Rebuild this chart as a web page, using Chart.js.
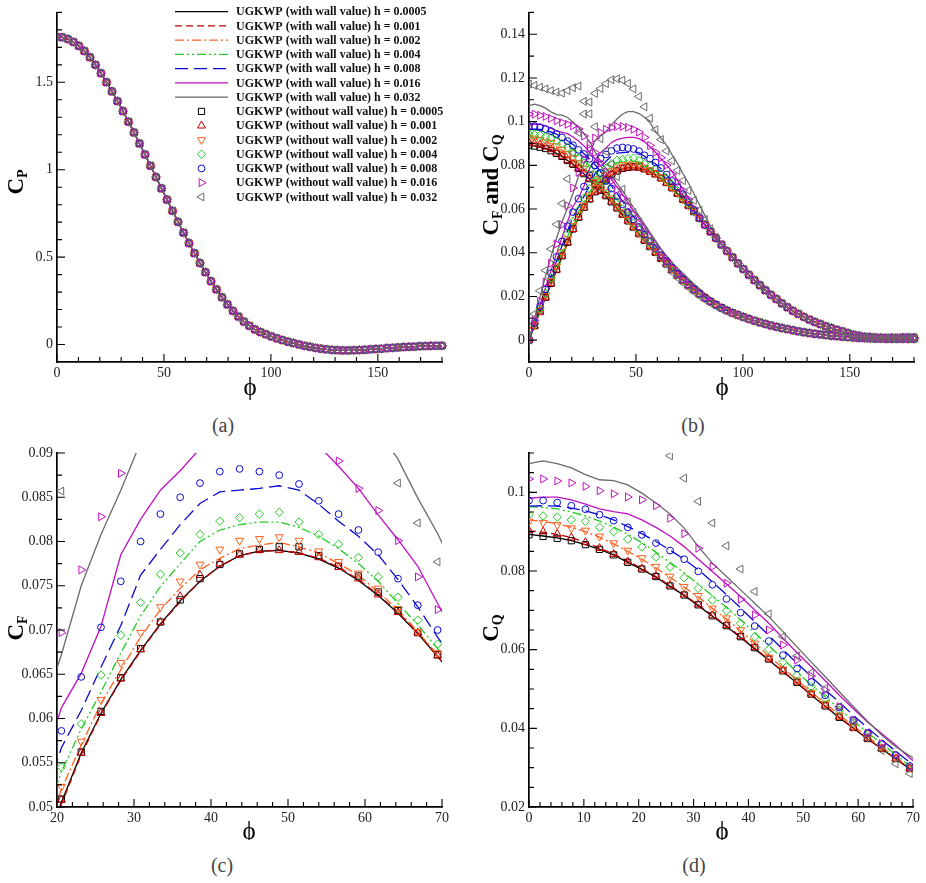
<!DOCTYPE html>
<html><head><meta charset="utf-8">
<script src="https://cdn.jsdelivr.net/npm/chart.js@4.4.1/dist/chart.umd.min.js"></script>
<style>
html,body{margin:0;padding:0;background:#fff;}
#wrap{position:relative;width:926px;height:883px;overflow:hidden;background:#fff;}
canvas{position:absolute;}
.cap{position:absolute;font-family:'Liberation Serif',serif;font-size:20px;color:#444;transform:translate(-50%,-50%);white-space:nowrap;}
</style></head><body>
<div id="wrap">
<canvas id="ca" width="463" height="400" style="left:0;top:0"></canvas>
<canvas id="cb" width="463" height="400" style="left:463px;top:0"></canvas>
<canvas id="cc" width="463" height="400" style="left:0;top:440px"></canvas>
<canvas id="cd" width="463" height="400" style="left:463px;top:440px"></canvas>
<div class="cap" style="left:223px;top:425px">(a)</div>
<div class="cap" style="left:693px;top:425px">(b)</div>
<div class="cap" style="left:222px;top:865px">(c)</div>
<div class="cap" style="left:694px;top:865px">(d)</div>
</div>
<script>
// ---------------- data ----------------
const phi = [0, 2.571, 5.143, 7.714, 10.286, 12.857, 15.429, 18, 20.571, 23.143, 25.714, 28.286, 30.857, 33.429, 36, 38.571, 41.143, 43.714, 46.286, 48.857, 51.429, 54, 56.571, 59.143, 61.714, 64.286, 66.857, 69.429, 72, 74.571, 77.143, 79.714, 82.286, 84.857, 87.429, 90, 92.571, 95.143, 97.714, 100.286, 102.857, 105.429, 108, 110.571, 113.143, 115.714, 118.286, 120.857, 123.429, 126, 128.571, 131.143, 133.714, 136.286, 138.857, 141.429, 144, 146.571, 149.143, 151.714, 154.286, 156.857, 159.429, 162, 164.571, 167.143, 169.714, 172.286, 174.857, 177.429, 180];

const cp = [1.760, 1.757, 1.747, 1.731, 1.708, 1.679, 1.643, 1.600, 1.552, 1.500, 1.448, 1.392, 1.335, 1.275, 1.213, 1.150, 1.087, 1.023, 0.958, 0.893, 0.829, 0.765, 0.702, 0.640, 0.580, 0.522, 0.466, 0.413, 0.362, 0.315, 0.270, 0.229, 0.192, 0.160, 0.131, 0.107, 0.086, 0.071, 0.058, 0.046, 0.035, 0.025, 0.016, 0.008, 0.000, -0.007, -0.013, -0.019, -0.024, -0.028, -0.031, -0.033, -0.034, -0.034, -0.033, -0.032, -0.030, -0.028, -0.026, -0.024, -0.021, -0.019, -0.017, -0.015, -0.013, -0.012, -0.010, -0.009, -0.008, -0.007, -0.007];

// C_F, with wall value (lines)
const cfW0005 = [0, 0.0065, 0.0130, 0.0195, 0.0258, 0.0320, 0.0382, 0.0444, 0.0505, 0.0561, 0.0606, 0.0644, 0.0677, 0.0707, 0.0733, 0.0755, 0.0772, 0.0784, 0.0789, 0.0790, 0.0787, 0.0780, 0.0770, 0.0756, 0.0739, 0.0719, 0.0696, 0.0670];
const cfW001 = [0, 0.0065, 0.0130, 0.0194, 0.0257, 0.0319, 0.0381, 0.0443, 0.0503, 0.0559, 0.0605, 0.0643, 0.0676, 0.0706, 0.0732, 0.0755, 0.0772, 0.0784, 0.0789, 0.0790, 0.0787, 0.0781, 0.0771, 0.0757, 0.0740, 0.0720, 0.0697, 0.0670];
const cfW002 = [0, 0.0067, 0.0134, 0.0200, 0.0265, 0.0329, 0.0393, 0.0457, 0.0520, 0.0570, 0.0617, 0.0655, 0.0692, 0.0723, 0.0747, 0.0768, 0.0781, 0.0792, 0.0796, 0.0799, 0.0794, 0.0787, 0.0775, 0.0762, 0.0743, 0.0723, 0.0698, 0.0672];
const cfW004 = [0, 0.0068, 0.0136, 0.0204, 0.0272, 0.0339, 0.0406, 0.0473, 0.0540, 0.0588, 0.0630, 0.0674, 0.0716, 0.0749, 0.0775, 0.0800, 0.0813, 0.0819, 0.0822, 0.0822, 0.0816, 0.0806, 0.0792, 0.0775, 0.0755, 0.0730, 0.0706, 0.0679, 0.0652, 0.0621, 0.0589];
const cfW008 = [0, 0.0073, 0.0146, 0.0219, 0.0290, 0.0361, 0.0432, 0.0500, 0.0567, 0.0609, 0.0658, 0.0705, 0.0762, 0.0791, 0.0819, 0.0843, 0.0856, 0.0858, 0.0860, 0.0863, 0.0858, 0.0842, 0.0823, 0.0806, 0.0785, 0.0757, 0.0726, 0.0692, 0.0660, 0.0626, 0.0592, 0.0558];
const cfW016 = [0, 0.0080, 0.0160, 0.0240, 0.0318, 0.0395, 0.0470, 0.0542, 0.0612, 0.0651, 0.0704, 0.0785, 0.0825, 0.0858, 0.0880, 0.0905, 0.0918, 0.0925, 0.0928, 0.0928, 0.0922, 0.0908, 0.0885, 0.0860, 0.0830, 0.0802, 0.0772, 0.0730, 0.0690, 0.0650, 0.0605, 0.0565, 0.0530, 0.0498];
const cfW032 = [0, 0.0100, 0.0198, 0.0292, 0.0382, 0.0465, 0.0542, 0.0605, 0.0672, 0.0750, 0.0808, 0.0858, 0.0912, 0.0935, 0.0955, 0.0985, 0.1012, 0.1035, 0.1046, 0.1046, 0.1037, 0.1020, 0.0995, 0.0955, 0.0925, 0.0893, 0.0849, 0.0809, 0.0762, 0.0718, 0.0670, 0.0620, 0.0570, 0.0520, 0.0478, 0.0440];
// C_F, without wall value (symbols)
const cfO0005 = [0, 0.0066, 0.0131, 0.0196, 0.0260, 0.0323, 0.0386, 0.0448, 0.0509, 0.0562, 0.0608, 0.0646, 0.0679, 0.0709, 0.0734, 0.0758, 0.0774, 0.0786, 0.0791, 0.0794, 0.0794, 0.0784, 0.0772, 0.0761, 0.0743, 0.0722, 0.0697, 0.0672];
const cfO001 = [0, 0.0065, 0.0130, 0.0195, 0.0259, 0.0322, 0.0385, 0.0447, 0.0508, 0.0561, 0.0606, 0.0645, 0.0678, 0.0709, 0.0738, 0.0762, 0.0775, 0.0785, 0.0790, 0.0790, 0.0788, 0.0782, 0.0771, 0.0758, 0.0740, 0.0720, 0.0697, 0.0671];
const cfO002 = [0, 0.0068, 0.0136, 0.0204, 0.0271, 0.0337, 0.0402, 0.0463, 0.0523, 0.0574, 0.0621, 0.0663, 0.0697, 0.0726, 0.0755, 0.0774, 0.0791, 0.0801, 0.0803, 0.0805, 0.0801, 0.0789, 0.0777, 0.0764, 0.0747, 0.0724, 0.0698, 0.0674];
const cfO004 = [0, 0.0072, 0.0144, 0.0215, 0.0285, 0.0354, 0.0422, 0.0486, 0.0545, 0.0594, 0.0649, 0.0694, 0.0731, 0.0763, 0.0787, 0.0808, 0.0823, 0.0827, 0.0831, 0.0833, 0.0822, 0.0808, 0.0797, 0.0782, 0.0760, 0.0737, 0.0711, 0.0684, 0.0656, 0.0624, 0.0590];
const cfO008 = [0, 0.0078, 0.0155, 0.0232, 0.0307, 0.0381, 0.0452, 0.0522, 0.0586, 0.0647, 0.0703, 0.0755, 0.0800, 0.0831, 0.0850, 0.0866, 0.0879, 0.0882, 0.0879, 0.0875, 0.0865, 0.0846, 0.0831, 0.0813, 0.0788, 0.0758, 0.0728, 0.0700, 0.0668, 0.0632, 0.0595, 0.0559];
const cfO016 = [0, 0.0090, 0.0178, 0.0265, 0.0352, 0.0440, 0.0528, 0.0615, 0.0697, 0.0768, 0.0828, 0.0877, 0.0925, 0.0950, 0.0965, 0.0973, 0.0978, 0.0978, 0.0974, 0.0965, 0.0952, 0.0928, 0.0891, 0.0860, 0.0835, 0.0801, 0.0760, 0.0723, 0.0685, 0.0645, 0.0603, 0.0562, 0.0529];
const cfO032 = [0, 0.0120, 0.0226, 0.0319, 0.0417, 0.0530, 0.0625, 0.0738, 0.0857, 0.0950, 0.1035, 0.1090, 0.1129, 0.1151, 0.1174, 0.1192, 0.1196, 0.1190, 0.1175, 0.1150, 0.1115, 0.1068, 0.1016, 0.0963, 0.0918, 0.0866, 0.0821, 0.0777, 0.0730, 0.0685, 0.0640, 0.0595, 0.0552, 0.0510, 0.0470, 0.0438];
// common C_F values from phi = 72 deg onwards (all series coincide)
const cfTail = [0.0644, 0.0616, 0.0588, 0.0558, 0.0528, 0.0497, 0.0467, 0.0437, 0.0408, 0.0379, 0.0351, 0.0325, 0.0299, 0.0274, 0.0251, 0.0228, 0.0207, 0.0188, 0.0168, 0.0150, 0.0134, 0.0120, 0.0106, 0.0094, 0.0083, 0.0073, 0.0063, 0.0055, 0.0047, 0.0040, 0.0032, 0.0025, 0.0020, 0.0016, 0.0014, 0.0012, 0.0011, 0.0011, 0.0011, 0.0011, 0.0012, 0.0012, 0.0012];

// C_Q, with wall value (lines)
const cqW0005 = [0.0893, 0.0889, 0.0884, 0.0877, 0.0867, 0.0855, 0.0841, 0.0822, 0.0804, 0.0784, 0.0761, 0.0738, 0.0712, 0.0685, 0.0659, 0.0631, 0.0602, 0.0574, 0.0544, 0.0515, 0.0485, 0.0456, 0.0427, 0.0400, 0.0373, 0.0348, 0.0322, 0.0297];
const cqW001 = [0.0902, 0.0899, 0.0893, 0.0885, 0.0873, 0.0858, 0.0843, 0.0825, 0.0806, 0.0786, 0.0763, 0.0739, 0.0714, 0.0687, 0.0661, 0.0633, 0.0604, 0.0575, 0.0545, 0.0516, 0.0486, 0.0457, 0.0428, 0.0401, 0.0374, 0.0348, 0.0323, 0.0298];
const cqW002 = [0.0930, 0.0926, 0.0920, 0.0911, 0.0900, 0.0886, 0.0869, 0.0850, 0.0830, 0.0808, 0.0784, 0.0759, 0.0734, 0.0705, 0.0678, 0.0648, 0.0617, 0.0584, 0.0553, 0.0523, 0.0492, 0.0464, 0.0434, 0.0406, 0.0379, 0.0352, 0.0326, 0.0300];
const cqW004 = [0.0963, 0.0962, 0.0958, 0.0950, 0.0940, 0.0927, 0.0912, 0.0893, 0.0872, 0.0848, 0.0822, 0.0795, 0.0767, 0.0737, 0.0707, 0.0676, 0.0643, 0.0610, 0.0577, 0.0543, 0.0511, 0.0480, 0.0449, 0.0419, 0.0389, 0.0361, 0.0333, 0.0305, 0.0280, 0.0256, 0.0234];
const cqW008 = [0.0965, 0.0966, 0.0965, 0.0960, 0.0953, 0.0943, 0.0930, 0.0913, 0.0895, 0.0875, 0.0853, 0.0830, 0.0803, 0.0772, 0.0740, 0.0706, 0.0671, 0.0636, 0.0600, 0.0566, 0.0532, 0.0498, 0.0466, 0.0433, 0.0401, 0.0371, 0.0342, 0.0313, 0.0287, 0.0262, 0.0240, 0.0219, 0.0199, 0.0181, 0.0165];
const cqW016 = [0.0985, 0.0988, 0.0988, 0.0981, 0.0970, 0.0958, 0.0951, 0.0945, 0.0930, 0.0911, 0.0889, 0.0862, 0.0830, 0.0799, 0.0767, 0.0735, 0.0701, 0.0667, 0.0629, 0.0592, 0.0557, 0.0521, 0.0484, 0.0450, 0.0416, 0.0387, 0.0357, 0.0324, 0.0299, 0.0274, 0.0251, 0.0230, 0.0210, 0.0192, 0.0175, 0.0159, 0.0145];
const cqW032 = [0.1073, 0.1080, 0.1073, 0.1062, 0.1045, 0.1032, 0.1030, 0.1019, 0.0998, 0.0973, 0.0945, 0.0909, 0.0862, 0.0820, 0.0786, 0.0752, 0.0718, 0.0684, 0.0646, 0.0607, 0.0569, 0.0531, 0.0493, 0.0455, 0.0418, 0.0383, 0.0353, 0.0330, 0.0306, 0.0281, 0.0257, 0.0235, 0.0214, 0.0195, 0.0177, 0.0160, 0.0146, 0.0134];
// C_Q, without wall value (symbols)
const cqO0005 = [0.0892, 0.0888, 0.0883, 0.0877, 0.0867, 0.0855, 0.0841, 0.0822, 0.0805, 0.0786, 0.0762, 0.0739, 0.0714, 0.0686, 0.0661, 0.0633, 0.0605, 0.0576, 0.0546, 0.0517, 0.0487, 0.0457, 0.0428, 0.0402, 0.0374, 0.0349, 0.0323, 0.0298];
const cqO001 = [0.0903, 0.0900, 0.0894, 0.0885, 0.0873, 0.0858, 0.0843, 0.0824, 0.0806, 0.0787, 0.0763, 0.0740, 0.0715, 0.0687, 0.0662, 0.0634, 0.0606, 0.0577, 0.0547, 0.0518, 0.0488, 0.0458, 0.0429, 0.0402, 0.0375, 0.0349, 0.0323, 0.0298];
const cqO002 = [0.0926, 0.0923, 0.0917, 0.0909, 0.0903, 0.0888, 0.0871, 0.0852, 0.0833, 0.0811, 0.0786, 0.0760, 0.0737, 0.0705, 0.0680, 0.0650, 0.0616, 0.0580, 0.0550, 0.0521, 0.0490, 0.0463, 0.0433, 0.0405, 0.0378, 0.0351, 0.0326, 0.0300];
const cqO004 = [0.0943, 0.0940, 0.0937, 0.0930, 0.0926, 0.0911, 0.0900, 0.0881, 0.0861, 0.0835, 0.0810, 0.0783, 0.0756, 0.0726, 0.0699, 0.0667, 0.0633, 0.0601, 0.0569, 0.0535, 0.0506, 0.0476, 0.0446, 0.0416, 0.0387, 0.0360, 0.0332, 0.0304, 0.0279, 0.0255, 0.0233];
const cqO008 = [0.0979, 0.0979, 0.0974, 0.0966, 0.0957, 0.0943, 0.0928, 0.0911, 0.0892, 0.0871, 0.0852, 0.0830, 0.0799, 0.0765, 0.0729, 0.0694, 0.0660, 0.0622, 0.0586, 0.0552, 0.0518, 0.0484, 0.0453, 0.0421, 0.0388, 0.0361, 0.0332, 0.0304, 0.0279, 0.0255, 0.0233, 0.0213];
const cqO016 = [0.1034, 0.1034, 0.1029, 0.1024, 0.1015, 0.1004, 0.0996, 0.0988, 0.0981, 0.0966, 0.0934, 0.0895, 0.0858, 0.0811, 0.0769, 0.0728, 0.0688, 0.0650, 0.0612, 0.0574, 0.0533, 0.0497, 0.0455, 0.0421, 0.0388, 0.0361, 0.0332, 0.0302, 0.0277, 0.0254, 0.0232, 0.0212, 0.0194];
const cqO032 = [0.1172, 0.1166, 0.1158, 0.1150, 0.1142, 0.1135, 0.1131, 0.1142, 0.1155, 0.1163, 0.1093, 0.1036, 0.0977, 0.0922, 0.0864, 0.0805, 0.0748, 0.0691, 0.0633, 0.0584, 0.0541, 0.0501, 0.0455, 0.0416, 0.0378, 0.0344, 0.0310, 0.0285, 0.0262, 0.0240, 0.0220, 0.0201, 0.0184, 0.0168, 0.0154, 0.0141, 0.0130, 0.0120, 0.0111, 0.0102, 0.0094];
const cqTail = [0.0274, 0.0251, 0.0230, 0.0211, 0.0193, 0.0177, 0.0162, 0.0148, 0.0136, 0.0125, 0.0115, 0.0106, 0.0097, 0.0089, 0.0081, 0.0074, 0.0067, 0.0061, 0.0055, 0.0050, 0.0045, 0.0040, 0.0036, 0.0032, 0.0029, 0.0026, 0.0023, 0.0020, 0.0018, 0.0016, 0.0014, 0.0012, 0.0010, 0.0009, 0.0008, 0.0007, 0.0007, 0.0006, 0.0006, 0.0006, 0.0006, 0.0006, 0.0006];

const hValues = ['0.0005', '0.001', '0.002', '0.004', '0.008', '0.016', '0.032'];

// ticks
const xMajorA = [0, 50, 100, 150];
const xMinorA = [10, 20, 30, 40, 60, 70, 80, 90, 110, 120, 130, 140, 160, 170, 180];
const yMajorA = [0, 0.5, 1, 1.5];
const yMinorA = [0.1, 0.2, 0.3, 0.4, 0.6, 0.7, 0.8, 0.9, 1.1, 1.2, 1.3, 1.4, 1.6, 1.7, 1.8, 1.9];
const yMajorB = [0, 0.02, 0.04, 0.06, 0.08, 0.1, 0.12, 0.14];
const yMinorB = [0.01, 0.03, 0.05, 0.07, 0.09, 0.11, 0.13, 0.15];
const xMajorC = [20, 30, 40, 50, 60, 70];
const xMinorC = [22, 24, 26, 28, 32, 34, 36, 38, 42, 44, 46, 48, 52, 54, 56, 58, 62, 64, 66, 68];
const yMajorC = [0.05, 0.055, 0.06, 0.065, 0.07, 0.075, 0.08, 0.085, 0.09];
const yMinorC = [0.0525, 0.0575, 0.0625, 0.0675, 0.0725, 0.0775, 0.0825, 0.0875];
const xMajorD = [0, 10, 20, 30, 40, 50, 60, 70];
const xMinorD = [2, 4, 6, 8, 12, 14, 16, 18, 22, 24, 26, 28, 32, 34, 36, 38, 42, 44, 46, 48, 52, 54, 56, 58, 62, 64, 66, 68];
const yMajorD = [0.02, 0.04, 0.06, 0.08, 0.1];
const yMinorD = [0.025, 0.03, 0.035, 0.045, 0.05, 0.055, 0.065, 0.07, 0.075, 0.085, 0.09, 0.095, 0.105, 0.11];

// ---------------- build ----------------
const full = (head, tail) => head.concat(tail.slice(head.length - 28));
const cfLines = [cfW0005, cfW001, cfW002, cfW004, cfW008, cfW016, cfW032].map(a => full(a, cfTail));
const cfMarks = [cfO0005, cfO001, cfO002, cfO004, cfO008, cfO016, cfO032].map(a => full(a, cfTail));
const cqLines = [cqW0005, cqW001, cqW002, cqW004, cqW008, cqW016, cqW032].map(a => full(a, cqTail));
const cqMarks = [cqO0005, cqO001, cqO002, cqO004, cqO008, cqO016, cqO032].map(a => full(a, cqTail));
const cpSet = [cp, cp, cp, cp, cp, cp, cp];

const colors = ['#000000', '#c00000', '#ff6020', '#22cc22', '#0a0ad2', '#c010c0', '#6a6a6a'];
const dashes = [[], [7, 4], [9, 3, 2, 3], [9, 3, 2, 3, 2, 3], [13, 6], [], []];
const mStyle = ['rect', 'triangle', 'triangle', 'rectRot', 'circle', 'triangle', 'triangle'];
const mRot = [0, 0, 180, 0, 0, 90, -90];
const mRad = [4.4, 4.6, 4.6, 4.2, 3.4, 4.6, 4.6];
const SERIF = "'Liberation Serif', 'DejaVu Serif', serif";
Chart.defaults.font.family = SERIF;
const tickFont = {family: SERIF, size: 14};

const xy = ys => ys.map((y, i) => ({x: phi[i], y: y}));

function drawMarker(ctx, k, x, y) {
  const r = mRad[k], st = mStyle[k];
  ctx.beginPath();
  if (st === 'circle') ctx.arc(x, y, r, 0, Math.PI * 2);
  else if (st === 'rect') { const s = Math.SQRT1_2 * r; ctx.rect(x - s, y - s, 2 * s, 2 * s); }
  else if (st === 'rectRot') { ctx.moveTo(x, y - r); ctx.lineTo(x + r, y); ctx.lineTo(x, y + r); ctx.lineTo(x - r, y); ctx.closePath(); }
  else {
    let rad = mRot[k] * Math.PI / 180;
    for (let j = 0; j < 3; j++) {
      const px = x + Math.sin(rad) * r, py = y - Math.cos(rad) * r;
      if (j) ctx.lineTo(px, py); else ctx.moveTo(px, py);
      rad += 2 * Math.PI / 3;
    }
    ctx.closePath();
  }
  ctx.stroke();
}

function drawRich(ctx, parts, cx, cy, rotate) {
  ctx.save();
  ctx.translate(cx, cy);
  if (rotate) ctx.rotate(-Math.PI / 2);
  let total = 0;
  parts.forEach(p => { ctx.font = p.f; p.w = ctx.measureText(p.t).width; total += p.w; });
  let x = -total / 2;
  ctx.fillStyle = '#000';
  ctx.textBaseline = 'alphabetic';
  ctx.textAlign = 'left';
  parts.forEach(p => { ctx.font = p.f; ctx.fillText(p.t, x, p.dy); x += p.w; });
  ctx.restore();
}

const BIG = "bold 23px " + SERIF, SUB = "bold 14px " + SERIF;

function decor(o) {
  return {
    id: 'decor',
    afterDraw(chart) {
      const ctx = chart.ctx, xs = chart.scales.x, ys = chart.scales.y, a = chart.chartArea;
      ctx.save();
      ctx.strokeStyle = '#000';
      ctx.lineWidth = 1.1;
      ctx.setLineDash([]);
      ctx.beginPath();
      const tx = (list, len) => list.forEach(v => { const p = xs.getPixelForValue(v); ctx.moveTo(p, a.bottom); ctx.lineTo(p, a.bottom - len); });
      const ty = (list, len) => list.forEach(v => { const p = ys.getPixelForValue(v); ctx.moveTo(a.left, p); ctx.lineTo(a.left + len, p); });
      tx(o.xMajor, 8); tx(o.xMinor, 5); ty(o.yMajor, 8); ty(o.yMinor, 5);
      ctx.stroke();
      // axis titles
      drawRich(ctx, o.yTitle, o.yTitlePos[0], o.yTitlePos[1], true);
      ctx.font = "25px " + SERIF;
      ctx.fillStyle = '#000';
      ctx.textAlign = 'center';
      ctx.textBaseline = 'middle';
      ctx.fillText('\u03D5', o.xTitlePos[0], o.xTitlePos[1]);
      if (o.legend) {
        ctx.font = "bold 12px " + SERIF;
        ctx.textBaseline = 'middle';
        ctx.textAlign = 'left';
        for (let k = 0; k < 14; k++) {
          const y = 11.7 + 14.25 * k;
          const s = k % 7;
          ctx.strokeStyle = colors[s];
          if (k < 7) {
            ctx.lineWidth = 1.3;
            ctx.setLineDash(dashes[s]);
            ctx.beginPath(); ctx.moveTo(175, y); ctx.lineTo(228, y); ctx.stroke();
            ctx.setLineDash([]);
          } else {
            ctx.lineWidth = 1;
            drawMarker(ctx, s, 201.5, y);
          }
          ctx.fillStyle = '#111';
          ctx.fillText('UGKWP (' + (k < 7 ? 'with' : 'without') + ' wall value) h = ' + hValues[s], 236, y + 0.5);
        }
      }
      ctx.restore();
    }
  };
}

function makePanel(id, o) {
  const ds = [];
  o.lines.forEach((ys, k) => {
    const s = k % 7;
    ds.push({
      data: xy(ys), showLine: true, borderColor: colors[s], borderWidth: 1.3,
      borderDash: dashes[s], pointRadius: 0, pointHoverRadius: 0, pointHitRadius: 0,
      order: 200 - k, clip: o.clip, fill: false
    });
  });
  o.marks.forEach((ys, k) => {
    const s = k % 7;
    ds.push({
      data: xy(ys), showLine: false, pointStyle: mStyle[s], pointRotation: mRot[s],
      pointRadius: mRad[s], pointHoverRadius: mRad[s], pointBorderColor: colors[s],
      pointBackgroundColor: 'rgba(255,255,255,0)', pointBorderWidth: 1,
      order: 100 - s, clip: o.clip
    });
  });
  const axisCommon = {
    type: 'linear',
    grid: {display: false, drawTicks: false},
    border: {display: true, color: '#000', width: 1.7},
    ticks: {font: tickFont, color: '#222', maxRotation: 0, autoSkip: false, callback: v => String(v)}
  };
  return new Chart(document.getElementById(id), {
    type: 'scatter',
    data: {datasets: ds},
    options: {
      responsive: false, animation: false, devicePixelRatio: 1, events: [],
      layout: {padding: o.pad},
      plugins: {legend: {display: false}, tooltip: {enabled: false}},
      scales: {
        x: Object.assign({}, axisCommon, {
          min: o.xmin, max: o.xmax,
          ticks: Object.assign({}, axisCommon.ticks, {padding: 3}),
          afterFit: s => { s.height = o.xh; },
          afterBuildTicks: s => { s.ticks = o.xMajor.map(v => ({value: v})); }
        }),
        y: Object.assign({}, axisCommon, {
          min: o.ymin, max: o.ymax,
          ticks: Object.assign({}, axisCommon.ticks, {padding: 4}),
          afterFit: s => { s.width = o.yw; },
          afterBuildTicks: s => { s.ticks = o.yMajor.map(v => ({value: v})); }
        })
      }
    },
    plugins: [decor(o)]
  });
}

makePanel('ca', {
  lines: cpSet, marks: cpSet, xmin: 0, xmax: 180, ymin: -0.1, ymax: 1.9,
  pad: {left: 0, top: 8, right: 21, bottom: 0}, xh: 38, yw: 57,
  clip: {left: 0, top: 0, right: 6, bottom: 0},
  xMajor: xMajorA, xMinor: xMinorA, yMajor: yMajorA, yMinor: yMinorA,
  yTitle: [{t: 'C', f: BIG, dy: 7.5}, {t: 'P', f: SUB, dy: 12}], yTitlePos: [15, 182],
  xTitlePos: [250, 388], legend: true
});
makePanel('cb', {
  lines: cfLines.concat(cqLines), marks: cfMarks.concat(cqMarks),
  xmin: 0, xmax: 180, ymin: -0.01, ymax: 0.15,
  pad: {left: 0, top: 8, right: 12, bottom: 0}, xh: 38, yw: 66,
  clip: {left: 0, top: 0, right: 6, bottom: 0},
  xMajor: xMajorA, xMinor: xMinorA, yMajor: yMajorB, yMinor: yMinorB,
  yTitle: [{t: 'C', f: BIG, dy: 7.5}, {t: 'F', f: SUB, dy: 12}, {t: ' and ', f: BIG, dy: 7.5}, {t: 'C', f: BIG, dy: 7.5}, {t: 'Q', f: SUB, dy: 12}],
  yTitlePos: [27, 185], xTitlePos: [259, 388]
});
makePanel('cc', {
  lines: cfLines, marks: cfMarks, xmin: 20, xmax: 70, ymin: 0.05, ymax: 0.09,
  pad: {left: 0, top: 13, right: 21, bottom: 0}, xh: 33, yw: 57,
  clip: 0,
  xMajor: xMajorC, xMinor: xMinorC, yMajor: yMajorC, yMinor: yMinorC,
  yTitle: [{t: 'C', f: BIG, dy: 7.5}, {t: 'F', f: SUB, dy: 12}], yTitlePos: [15, 188],
  xTitlePos: [249, 392]
});
makePanel('cd', {
  lines: cqLines, marks: cqMarks, xmin: 0, xmax: 70, ymin: 0.02, ymax: 0.11,
  pad: {left: 0, top: 13, right: 13, bottom: 0}, xh: 33, yw: 66,
  clip: 0,
  xMajor: xMajorD, xMinor: xMinorD, yMajor: yMajorD, yMinor: yMinorD,
  yTitle: [{t: 'C', f: BIG, dy: 7.5}, {t: 'Q', f: SUB, dy: 12}], yTitlePos: [27, 188],
  xTitlePos: [259, 392]
});
</script>
</body></html>
